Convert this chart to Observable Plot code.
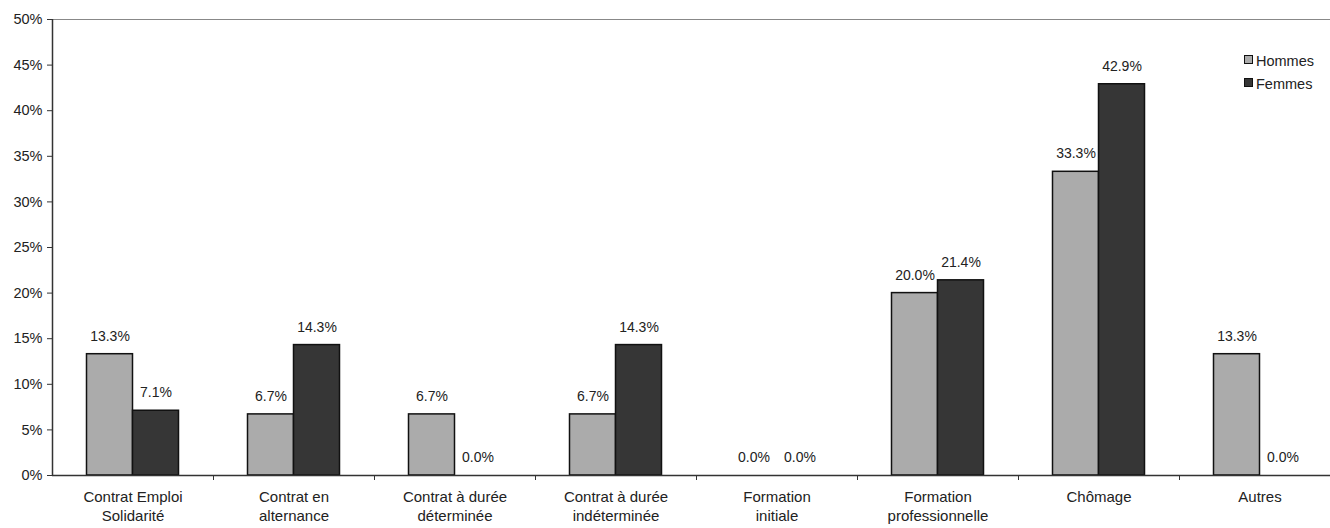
<!DOCTYPE html>
<html><head><meta charset="utf-8">
<script src="https://cdn.jsdelivr.net/npm/d3@7"></script>
<script src="https://cdn.jsdelivr.net/npm/@observablehq/plot@0.6"></script>
<style>
body{margin:0;background:#fff;font-family:"Liberation Sans",Arial,sans-serif}
#wrap{position:relative;width:1330px;height:528px}
.legend{position:absolute;left:1244px;top:50px;font-size:14.5px;color:#222;line-height:23px}
.sw{display:inline-block;width:7px;height:7px;border:1.5px solid #111;margin-right:3px;vertical-align:2px}
</style></head><body><div id="wrap"></div>
<script>
const categories = ["CES","Alternance","CDD","CDI","FormInit","FormPro","Chomage","Autres"];
const categoryLabels = ["Contrat Emploi\nSolidarité","Contrat en\nalternance","Contrat à durée\ndéterminée","Contrat à durée\nindéterminée","Formation\ninitiale","Formation\nprofessionnelle","Chômage","Autres"];
const hommes = [13.3, 6.7, 6.7, 6.7, 0.0, 20.0, 33.3, 13.3];
const femmes = [7.1, 14.3, 0.0, 14.3, 0.0, 21.4, 42.9, 0.0];
const seriesNames = ["Hommes","Femmes"];
const seriesColors = ["#ababab","#363636"];
const yTicks = [0,5,10,15,20,25,30,35,40,45,50];

const rowsH = categories.map((c,i)=>({cat:c, v:hommes[i]}));
const rowsF = categories.map((c,i)=>({cat:c, v:femmes[i]}));
const half = 161/2, bw = 46;
const fmt = d => d.v.toFixed(1) + "%";

const chart = Plot.plot({
  width: 1330, height: 528,
  marginLeft: 52, marginRight: 0, marginTop: 19, marginBottom: 53,
  style: {fontFamily: "'Liberation Sans', Arial, sans-serif", fontSize: "14.5px", color: "#222", background: "#fff"},
  x: {domain: categories, range: [52, 1340], padding: 0, axis: null},
  y: {domain: [0, 50], axis: null},
  marks: [
    Plot.ruleY([50], {stroke: "#888", strokeWidth: 1.2}),
    Plot.barY(rowsH.filter(d=>d.v>0), {x:"cat", y:"v", fill: seriesColors[0], stroke:"#111", strokeWidth:1.5, insetLeft: half-bw, insetRight: half}),
    Plot.barY(rowsF.filter(d=>d.v>0), {x:"cat", y:"v", fill: seriesColors[1], stroke:"#111", strokeWidth:1.5, insetLeft: half, insetRight: half-bw}),
    Plot.ruleY([0], {stroke: "#333", strokeWidth: 1.5}),
    Plot.ruleX([categories[0]], {x: d=>d, dx: -half, y1: 0, y2: 50, stroke: "#333", strokeWidth: 1.5}),
    Plot.ruleX(categories.slice(1), {x: d=>d, dx: -half, y1: 0, y2: 0, insetBottom: -5, stroke: "#333", strokeWidth: 1}),
    Plot.axisY(yTicks, {label: null, tickSize: 5, tickPadding: 5, tickFormat: d => d + "%", fontSize: 14.5, stroke: "#333", fill: "#222"}),
    Plot.text(rowsH, {x:"cat", y:"v", text: fmt, dx: -bw/2, dy: -18, fontSize: 14, fill: "#222"}),
    Plot.text(rowsF, {x:"cat", y:"v", text: fmt, dx: bw/2, dy: -18, fontSize: 14, fill: "#222"}),
    Plot.text(categories, {x: d=>d, y: 0, text: (d,i)=>categoryLabels[i], dy: 12.5, lineAnchor: "top", lineHeight: 1.27, fontSize: 15, fill: "#222"})
  ]
});
const wrap = document.getElementById("wrap");
wrap.appendChild(chart);
const leg = document.createElement("div");
leg.className = "legend";
leg.innerHTML = seriesNames.map((n,i)=>`<div><span class="sw" style="background:${seriesColors[i]}"></span>${n}</div>`).join("");
wrap.appendChild(leg);
</script>
</body></html>
